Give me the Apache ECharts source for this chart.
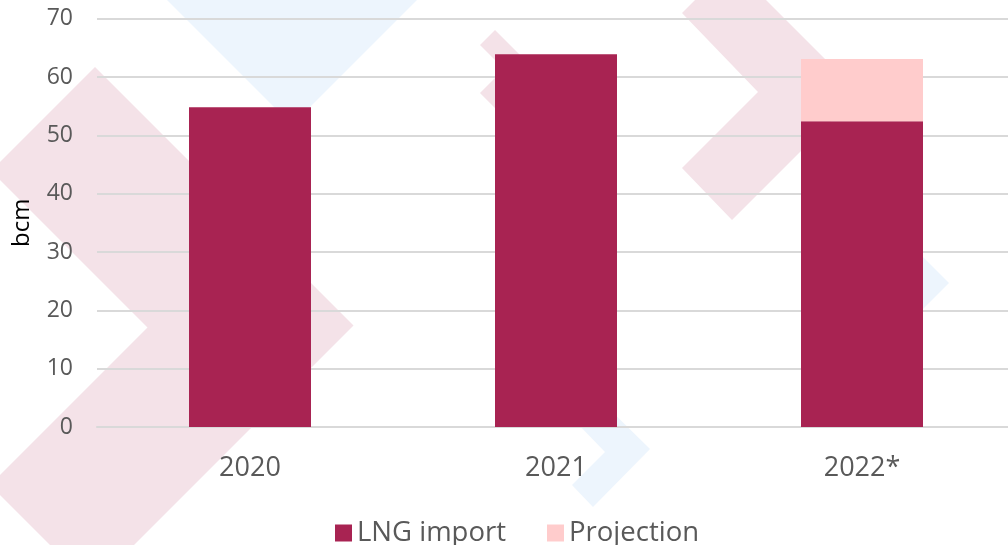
<!DOCTYPE html>
<html>
<head>
<meta charset="utf-8">
<style>
  html, body { margin: 0; padding: 0; background: #ffffff; }
  #chart { width: 1008px; height: 545px; }
</style>
<script src="https://cdn.jsdelivr.net/npm/echarts@6/dist/echarts.min.js"></script>
</head>
<body>
<div id="chart"></div>
<script>
// ---- data ----
const categories = ['2020', '2021', '2022*'];
const lngImport = [54.8, 63.9, 52.4];
const projection = [null, null, 10.7];
const seriesNames = ['LNG import', 'Projection'];
const yTicks = { min: 0, max: 70, interval: 10 };
const yAxisName = 'bcm';

// ---- decorative background chevrons ----
const PINK = '#f4e2e8';
const BLUE = '#edf5fd';
function poly(points, color) {
  return { type: 'polygon', z: -10, silent: true, shape: { points: points }, style: { fill: color } };
}
const decorations = [
  poly([[95, 67], [353.5, 325.5], [92, 587], [-10, 485], [147.5, 327.5], [-9, 171]], PINK),
  poly([[695, 0], [682, 13], [758, 92], [682, 168], [732, 220], [859, 93], [766, 0]], PINK),
  poly([[495, 30], [480, 45], [504, 69], [480, 93], [495, 108], [534, 69]], PINK),
  poly([[167, 0], [417, 0], [292, 125]], BLUE),
  poly([[600, 400], [650, 449], [593, 507], [572, 485], [605, 452], [578, 424]], BLUE),
  poly([[900, 234], [949, 283], [900, 332], [880, 312], [909, 283], [880, 254]], BLUE)
];

const chart = echarts.init(document.getElementById('chart'), null, { renderer: 'canvas' });
const FONT = '"Open Sans", "Noto Sans", sans-serif';
chart.setOption({
  backgroundColor: '#ffffff',
  animation: false,
  graphic: { elements: decorations },
  grid: { left: 97, top: 18.7, right: -7, bottom: 118, containLabel: false, outerBoundsMode: 'none' },
  legend: {
    data: seriesNames,
    left: 330,
    top: 514,
    itemWidth: 17,
    itemHeight: 17,
    itemGap: 41,
    icon: 'rect',
    textStyle: { fontFamily: FONT, fontSize: 27.5, color: '#595959', padding: [0, 0, 0, 0] }
  },
  xAxis: {
    type: 'category',
    data: categories,
    axisLine: { show: true, lineStyle: { color: '#d9d9d9', width: 2 } },
    axisTick: { show: false },
    axisLabel: { margin: 28, fontFamily: FONT, fontSize: 27, color: '#595959' },
    z: 1
  },
  yAxis: {
    type: 'value',
    min: yTicks.min,
    max: yTicks.max,
    interval: yTicks.interval,
    name: yAxisName,
    nameLocation: 'middle',
    nameGap: 63,
    nameRotate: 90,
    nameTextStyle: { fontFamily: FONT, fontSize: 24, color: '#000000' },
    axisLine: { show: false },
    axisTick: { show: false },
    axisLabel: { margin: 24, fontFamily: FONT, fontSize: 23, color: '#595959' },
    splitLine: { lineStyle: { color: '#d9d9d9', width: 2 } },
    z: 1
  },
  series: [
    {
      name: seriesNames[0],
      type: 'bar',
      stack: 'total',
      data: lngImport,
      barWidth: 122,
      itemStyle: { color: '#a82352' },
      z: 5
    },
    {
      name: seriesNames[1],
      type: 'bar',
      stack: 'total',
      data: projection,
      barWidth: 122,
      itemStyle: { color: '#ffcccc' },
      z: 5
    }
  ]
});
</script>
</body>
</html>
